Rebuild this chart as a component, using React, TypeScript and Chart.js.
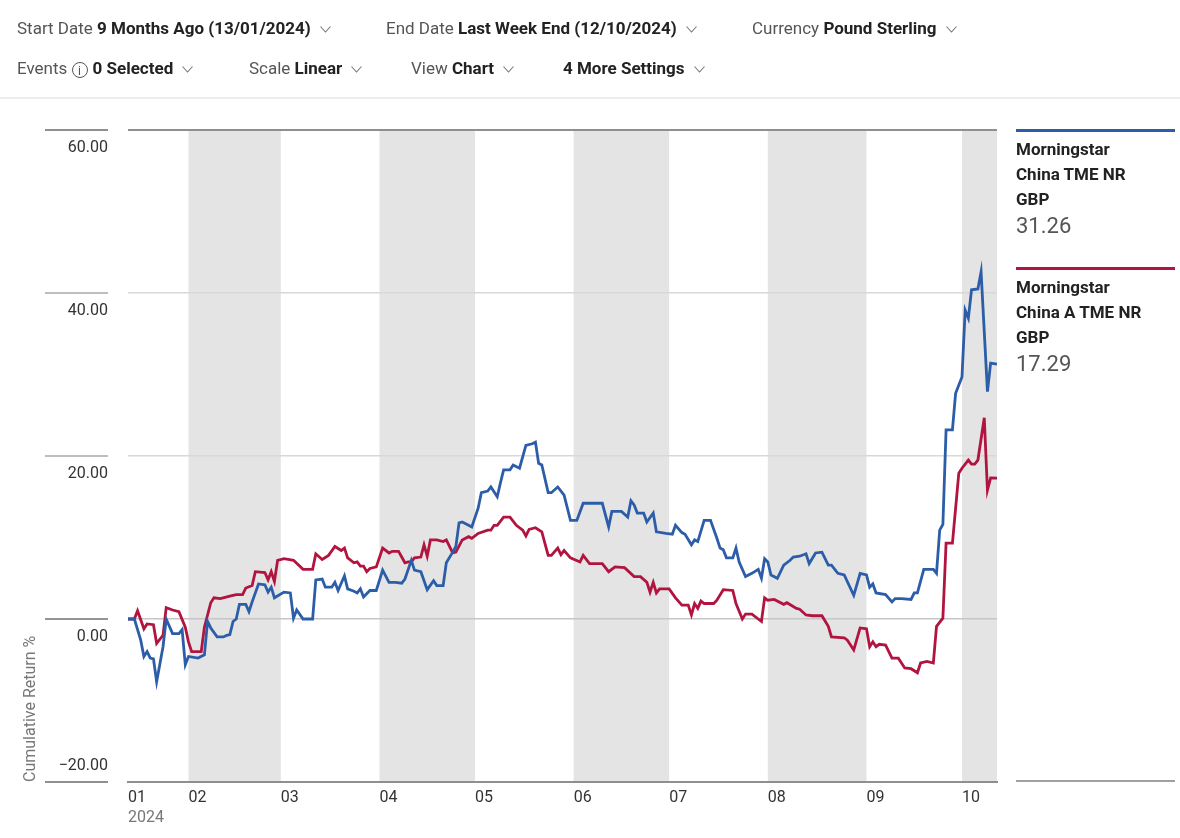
import React, { useEffect, useRef } from 'react';
import { Chart, registerables } from 'chart.js';

Chart.register(...registerables);

// ---------- data ----------
const startDate = '2024-01-13';
const endDate = '2024-10-12';
const monthStartDates = ['2024-01-13', '2024-02-01', '2024-03-01', '2024-04-01', '2024-05-01', '2024-06-01', '2024-07-01', '2024-08-01', '2024-09-01', '2024-10-01'];
const monthLabels = ['01', '02', '03', '04', '05', '06', '07', '08', '09', '10'];
const yearLabel = '2024';
const shadedRanges = [
  ['2024-02-01', '2024-03-01'],
  ['2024-04-01', '2024-05-01'],
  ['2024-06-01', '2024-07-01'],
  ['2024-08-01', '2024-09-01'],
  ['2024-10-01', '2024-10-12'],
];
const yMin = -20;
const yMax = 60;
const yStep = 20;

const seriesNames = [
  ['Morningstar', 'China TME NR', 'GBP'],
  ['Morningstar', 'China A TME NR', 'GBP'],
];
const latestValues = ['31.26', '17.29'];
const seriesColors = ['#2c5da8', '#b0143f'];

// days since start date
const blueDays = [0, 2, 4, 5, 6, 7, 8, 9, 11, 12, 14, 16, 17, 18, 19, 22, 24, 25, 26, 28, 30, 31, 32, 33, 34, 35, 37, 38, 39, 41, 43, 44, 45, 46, 49, 51, 52, 53, 55, 58, 59, 61, 62, 64, 65, 66, 68, 69, 71, 72, 73, 74, 76, 78, 80, 82, 84, 86, 87, 89, 90, 92, 94, 96, 97, 99, 100, 102, 103, 104, 105, 107, 108, 110, 111, 113, 114, 116, 117, 118, 120, 121, 123, 125, 127, 128, 129, 130, 132, 133, 135, 137, 139, 141, 143, 149, 151, 152, 155, 157, 158, 159, 160, 162, 163, 165, 166, 169, 171, 172, 174, 175, 177, 178, 179, 181, 183, 185, 186, 187, 188, 190, 191, 192, 194, 196, 198, 199, 200, 201, 202, 204, 206, 208, 209, 211, 213, 214, 216, 218, 220, 221, 223, 225, 228, 230, 232, 233, 234, 235, 238, 240, 241, 243, 246, 247, 248, 250, 253, 254, 255, 256, 257, 259, 260, 262, 263, 264, 265, 267, 268, 270, 271, 273];
const blueValues = [0, 0, -2.6, -4.6, -4.0, -4.8, -4.9, -7.7, -3.4, 0, -1.8, -1.8, -1.3, -5.6, -4.6, -4.8, -4.4, -0.3, -1.1, -2.2, -2.2, -2.0, -1.9, -0.3, 0, 1.8, 1.8, 0.9, 2.1, 4.3, 4.2, 3.3, 3.9, 2.6, 3.3, 3.2, 0.1, 1.1, 0, 0, 4.8, 4.9, 3.9, 3.9, 4.5, 3.5, 5.3, 3.7, 3.4, 3.2, 3.7, 2.7, 3.5, 3.5, 6.0, 4.5, 4.5, 4.4, 4.9, 7.2, 6.0, 5.8, 3.6, 4.7, 4.1, 4.1, 6.9, 8.2, 8.9, 11.8, 11.9, 11.5, 11.3, 13.6, 15.5, 15.7, 16.2, 15.0, 16.7, 18.3, 18.3, 18.9, 18.5, 21.3, 21.5, 21.7, 19.1, 18.9, 15.5, 15.5, 16.2, 15.2, 12.1, 12.1, 14.2, 14.2, 11.3, 13.2, 13.2, 12.5, 14.5, 14.0, 13.0, 13.0, 11.9, 13.0, 10.7, 10.5, 10.4, 11.5, 10.6, 10.4, 9.1, 9.7, 9.5, 12.1, 12.1, 9.9, 8.7, 8.5, 7.5, 7.5, 8.7, 7.0, 5.2, 5.6, 6.1, 5.0, 7.4, 7.0, 5.4, 5.0, 6.6, 7.2, 7.6, 7.7, 8.0, 6.8, 8.1, 8.2, 6.6, 6.6, 5.6, 5.4, 2.9, 5.6, 5.4, 3.9, 4.3, 3.2, 3.0, 2.1, 2.5, 2.5, 2.4, 3.2, 3.2, 6.1, 6.1, 5.6, 10.9, 11.6, 23.2, 23.2, 27.7, 29.7, 37.9, 36.9, 40.4, 40.5, 42.6, 27.9, 31.4, 31.26];

const redDays = [0, 2, 3, 5, 6, 8, 9, 11, 12, 14, 16, 18, 19, 20, 23, 24, 26, 27, 29, 32, 34, 36, 37, 39, 40, 43, 44, 45, 46, 47, 49, 52, 55, 58, 59, 61, 63, 65, 67, 68, 69, 71, 72, 73, 74, 75, 76, 78, 80, 82, 83, 85, 87, 88, 89, 90, 92, 93, 94, 95, 97, 99, 100, 102, 103, 105, 107, 108, 110, 113, 114, 115, 116, 118, 120, 122, 124, 125, 126, 128, 130, 132, 133, 135, 136, 137, 139, 142, 143, 145, 149, 151, 153, 156, 159, 161, 163, 164, 165, 166, 167, 170, 172, 174, 176, 177, 178, 179, 180, 181, 184, 185, 187, 190, 191, 193, 194, 196, 198, 199, 200, 201, 203, 206, 207, 210, 211, 213, 215, 218, 220, 221, 225, 226, 228, 230, 232, 233, 234, 235, 236, 238, 240, 242, 243, 244, 246, 248, 249, 251, 253, 254, 256, 257, 259, 261, 262, 264, 265, 266, 267, 269, 270, 271, 273];
const redValues = [0, 0, 1.0, -1.2, -0.6, -0.7, -3.0, -2.0, 1.4, 1.1, 0.9, -1.0, -2.8, -4.0, -4.0, -1.0, 2.0, 2.6, 2.5, 2.8, 3.0, 3.0, 3.8, 4.1, 5.8, 5.7, 4.8, 5.8, 4.6, 7.2, 7.4, 7.2, 6.1, 6.1, 8.0, 7.3, 7.8, 8.9, 8.4, 8.7, 7.5, 6.9, 7.0, 6.5, 6.5, 5.8, 6.2, 6.4, 8.7, 8.1, 8.3, 8.3, 6.9, 7.0, 7.0, 7.5, 7.6, 9.1, 7.7, 9.7, 9.7, 9.5, 9.7, 8.1, 8.2, 9.7, 10.1, 9.9, 10.5, 10.9, 10.9, 11.5, 11.5, 12.5, 12.5, 11.5, 10.9, 10.2, 11.0, 11.2, 10.7, 7.8, 7.8, 8.7, 7.9, 8.4, 7.5, 7.0, 7.8, 6.8, 6.8, 5.8, 6.4, 6.3, 5.2, 5.2, 4.5, 3.3, 4.5, 3.2, 3.7, 3.7, 2.6, 1.7, 1.7, 0.5, 1.9, 1.3, 2.2, 1.9, 1.9, 2.3, 3.6, 3.5, 1.9, 0, 0.6, 0.6, 0, -0.3, 2.6, 2.3, 2.4, 1.8, 2.0, 1.3, 1.2, 0.5, 0.4, 0.4, -0.9, -2.2, -2.3, -2.6, -3.8, -1.1, -1.2, -3.4, -2.8, -3.4, -3.1, -3.2, -4.8, -4.8, -5.4, -6.0, -6.1, -6.6, -5.4, -5.2, -5.4, -0.9, 0.1, 9.3, 9.3, 17.9, 18.5, 19.5, 19.0, 19.0, 19.5, 24.7, 15.8, 17.3, 17.29];

// ---------- helpers ----------
const FONT = '"Roboto", "Liberation Sans", sans-serif';
const dayOf = (s: string) =>
  Math.round((Date.parse(s + 'T00:00:00Z') - Date.parse(startDate + 'T00:00:00Z')) / 86400000);
const monthStartDays = monthStartDates.map(dayOf);
const endDay = dayOf(endDate);
const fmt = (v: number) => (v < 0 ? '\u2212' : '') + Math.abs(v).toFixed(2);

const bandsPlugin = {
  id: 'bands',
  beforeDraw(chart: any) {
    const { ctx, chartArea, scales } = chart;
    const x = scales.x;
    ctx.save();
    ctx.fillStyle = '#e4e4e4';
    shadedRanges.forEach(([a, b]) => {
      const x0 = x.getPixelForValue(dayOf(a));
      const x1 = x.getPixelForValue(dayOf(b));
      ctx.fillRect(x0, chartArea.top, x1 - x0, chartArea.bottom - chartArea.top);
    });
    ctx.restore();
  },
  afterDraw(chart: any) {
    const { ctx, scales } = chart;
    const y = scales.y;
    const x = scales.x;
    ctx.save();
    y.ticks.forEach((t: any) => {
      const py = Math.round(y.getPixelForValue(t.value));
      ctx.strokeStyle = t.value === 0 ? '#707070' : t.value === yMax || t.value === yMin ? '#8f8f8f' : '#a8a8a8';
      ctx.lineWidth = t.value === yMax || t.value === yMin ? 2 : 1.5;
      ctx.beginPath();
      ctx.moveTo(45, py);
      ctx.lineTo(108, py);
      ctx.stroke();
      ctx.fillStyle = '#333';
      ctx.font = '16px ' + FONT;
      ctx.textAlign = 'right';
      ctx.textBaseline = 'middle';
      const ly = t.value === yMin ? py - 16 : py + 18;
      ctx.fillText(fmt(t.value), 108, ly);
    });
    ctx.fillStyle = '#777';
    ctx.font = '16px ' + FONT;
    ctx.textAlign = 'left';
    ctx.textBaseline = 'middle';
    ctx.fillText(yearLabel, x.getPixelForValue(monthStartDays[0]), 818);
    ctx.restore();
  },
};

function Chevron() {
  return (
    <svg width="11" height="7" style={{ marginLeft: 9, verticalAlign: 'middle' }}>
      <polyline points="0.5,0.5 5.5,6 10.5,0.5" fill="none" stroke="#777" strokeWidth="1.1" />
    </svg>
  );
}

function Item({ left, top, label, value, info }: any) {
  return (
    <div
      style={{
        position: 'absolute',
        left,
        top,
        height: 20,
        lineHeight: '20px',
        fontSize: 17,
        fontFamily: FONT,
        whiteSpace: 'nowrap',
        color: '#555',
      }}
    >
      {label ? <span>{label} </span> : null}
      {info ? (
        <span
          style={{
            display: 'inline-block',
            width: 16,
            height: 16,
            lineHeight: '16px',
            borderRadius: '50%',
            border: '1.2px solid #555',
            textAlign: 'center',
            fontSize: 12,
            marginRight: 5,
            verticalAlign: 'middle',
            boxSizing: 'border-box',
          }}
        >
          i
        </span>
      ) : null}
      <span style={{ fontWeight: 'bold', color: '#222' }}>{value}</span>
      <Chevron />
    </div>
  );
}

export default function App() {
  const canvasRef = useRef<HTMLCanvasElement>(null);

  useEffect(() => {
    const chart = new Chart(canvasRef.current!, {
      type: 'line',
      data: {
        datasets: [
          {
            label: seriesNames[0].join(' '),
            data: blueDays.map((d, i) => ({ x: d, y: blueValues[i] })),
            borderColor: seriesColors[0],
            borderWidth: 2.8,
            pointRadius: 0,
            tension: 0,
          },
          {
            label: seriesNames[1].join(' '),
            data: redDays.map((d, i) => ({ x: d, y: redValues[i] })),
            borderColor: seriesColors[1],
            borderWidth: 2.8,
            pointRadius: 0,
            tension: 0,
          },
        ],
      },
      options: {
        animation: false,
        responsive: false,
        devicePixelRatio: 1,
        layout: { padding: { top: 130, right: 183, left: 0, bottom: 0 } },
        plugins: { legend: { display: false }, tooltip: { enabled: false } },
        scales: {
          x: {
            type: 'linear',
            min: 0,
            max: endDay,
            grid: { display: false },
            border: { display: true, color: '#8f8f8f', width: 2 },
            afterBuildTicks: (scale: any) => {
              scale.ticks = monthStartDays.map((v) => ({ value: v }));
            },
            afterFit: (scale: any) => {
              scale.height = 56;
            },
            ticks: {
              autoSkip: false,
              maxRotation: 0,
              align: 'start',
              padding: -2,
              color: '#333',
              font: { size: 16, family: FONT },
              callback: (_v: any, i: number) => monthLabels[i],
            },
          },
          y: {
            min: yMin,
            max: yMax,
            afterFit: (scale: any) => {
              scale.width = 128;
            },
            border: { display: false },
            grid: {
              drawTicks: false,
              color: (c: any) =>
                c.tick.value === yMax ? '#8f8f8f' : c.tick.value === 0 ? '#c6c6c6' : '#d8d8d8',
              lineWidth: (c: any) => (c.tick.value === yMax ? 2 : c.tick.value === yMin ? 0 : 1.5),
            },
            ticks: { display: false, stepSize: yStep },
          },
        },
      } as any,
      plugins: [bandsPlugin],
    });
    return () => chart.destroy();
  }, []);

  const legendBlock = (idx: number, top: number) => (
    <div key={idx}>
      <div style={{ position: 'absolute', left: 1016, top, width: 159, height: 3, background: seriesColors[idx] }} />
      <div
        style={{
          position: 'absolute',
          left: 1016,
          top: top + 8,
          fontFamily: FONT,
          fontSize: 17,
          fontWeight: 'bold',
          lineHeight: '25px',
          color: '#222',
          whiteSpace: 'nowrap',
        }}
      >
        {seriesNames[idx].map((l, i) => (
          <div key={i}>{l}</div>
        ))}
        <div style={{ fontWeight: 'normal', fontSize: 22, lineHeight: '28px', color: '#555' }}>{latestValues[idx]}</div>
      </div>
    </div>
  );

  return (
    <div style={{ position: 'absolute', left: 0, top: 0, width: 1180, height: 838, background: '#fff', overflow: 'hidden' }}>
      <canvas ref={canvasRef} width={1180} height={838} style={{ position: 'absolute', left: 0, top: 0 }} />
      <Item left={17} top={18} label="Start Date" value="9 Months Ago (13/01/2024)" />
      <Item left={386} top={18} label="End Date" value="Last Week End (12/10/2024)" />
      <Item left={752} top={18} label="Currency" value="Pound Sterling" />
      <Item left={17} top={58} label="Events" value="0 Selected" info />
      <Item left={249} top={58} label="Scale" value="Linear" />
      <Item left={411} top={58} label="View" value="Chart" />
      <Item left={563} top={58} label="" value="4 More Settings" />
      <div style={{ position: 'absolute', left: 0, top: 97, width: 1180, height: 2, background: '#ececec' }} />
      <div
        style={{
          position: 'absolute',
          left: 21,
          top: 782,
          transformOrigin: 'left top',
          transform: 'rotate(-90deg)',
          fontFamily: FONT,
          fontSize: 16,
          lineHeight: '18px',
          color: '#777',
          whiteSpace: 'nowrap',
        }}
      >
        Cumulative Return %
      </div>
      {legendBlock(0, 129)}
      {legendBlock(1, 267)}
      <div style={{ position: 'absolute', left: 1016, top: 780, width: 159, height: 2, background: '#a0a0a0' }} />
    </div>
  );
}
